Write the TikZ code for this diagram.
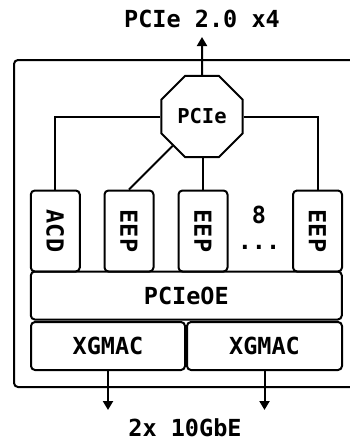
\documentclass[tikz,border=0pt]{standalone}
\usepackage{fontspec}
\setmonofont{DejaVu Sans Mono}
\usetikzlibrary{shapes.geometric,arrows.meta}
\begin{document}
\begin{tikzpicture}[x=1pt,y=-1pt,
  line width=2pt,
  lbl/.style={font=\ttfamily\bfseries\fontsize{23.5}{24}\selectfont, inner sep=0pt},
  blk/.style={draw, rounded corners=4pt, inner sep=0pt, font=\ttfamily\bfseries\fontsize{23.5}{24}\selectfont},
  vblk/.style={blk, minimum width=49pt, minimum height=81pt},
  arr/.style={-{Triangle[length=9pt,width=10pt]}}
]
\useasboundingbox (0,0) rectangle (349,442);
% outer frame
\draw[rounded corners=4pt] (360,60) -- (14,60) -- (14,387) -- (360,387);
% nodes
\node[draw, regular polygon, regular polygon sides=8, minimum size=88pt, inner sep=0pt,
      font=\ttfamily\bfseries\fontsize{20.5}{21}\selectfont] (pcie) at (202,116.5) {PCIe};
\node[lbl] (title) at (202,19) {PCIe 2.0 x4};
\coordinate (up) at (202,37);
\node[vblk] (acd) at (55.3,231) {\rotatebox{-90}{ACD}};
\node[vblk] (eep1) at (129,231) {\rotatebox{-90}{EEP}};
\node[vblk] (eep2) at (203,231) {\rotatebox{-90}{EEP}};
\node[vblk] (eep3) at (317.5,231) {\rotatebox{-90}{EEP}};
\node[lbl, text depth=0pt] (eight) at (259,215) {8};
\node[lbl, text height=4pt, text depth=0pt, anchor=base] (dots) at (259,249) {...};
\node[blk, minimum width=311pt, minimum height=48pt] (oe) at (186.3,295.5) {PCIeOE};
\node[blk, minimum width=154pt, minimum height=48pt] (xg1) at (108,346) {XGMAC};
\node[blk, minimum width=155pt, minimum height=48pt] (xg2) at (264.5,346) {XGMAC};
\coordinate (d1) at (108,410);
\coordinate (d2) at (264.5,410);
\node[lbl] (eth) at (185,428) {2x 10GbE};
% connectors
\draw[arr] (pcie.north) -- (up);
\draw (pcie.west) -| (acd.north);
\draw (pcie.east) -| (eep3.north);
\draw (eep1.north) -- (pcie);
\draw (eep2.north) -- (eep2.north |- pcie.south);
\draw[arr] (xg1.south) -- (d1);
\draw[arr] (xg2.south) -- (d2);
\end{tikzpicture}
\end{document}
